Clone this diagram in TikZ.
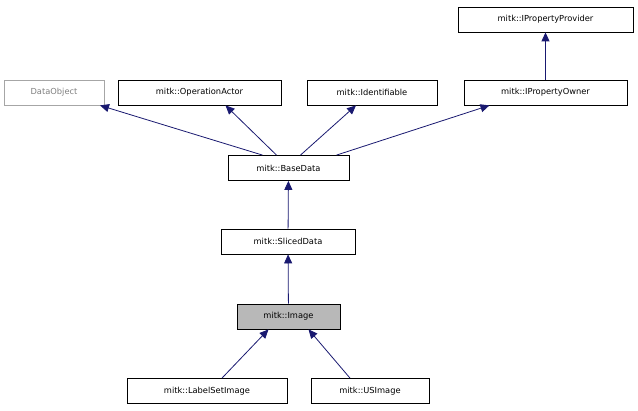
\documentclass[tikz,border=0pt]{standalone}
\usepackage{fontspec}
\setmainfont{DejaVu Sans}
\usetikzlibrary{arrows.meta,calc}
\definecolor{navy}{HTML}{191970}
\begin{document}
\begin{tikzpicture}[x=1pt,y=-1pt,
  box/.style={draw=black,line width=0.8pt,fill=white,minimum height=25pt,inner sep=0pt,font=\fontsize{8.3}{10}\selectfont},
  arr/.style={draw=navy,line width=0.8pt,-{Triangle[length=9pt,width=8pt]}}]
\useasboundingbox (0,0) rectangle (638,411);
\node[box,minimum width=175pt] (ipp) at (545.5,19.5) {mitk::IPropertyProvider};
\node[box,draw=gray!70,text=gray,minimum width=100pt] (do) at (54,92.5) {DataObject};
\node[box,minimum width=163pt] (oa) at (199.5,92.5) {mitk::OperationActor};
\node[box,minimum width=130pt] (id) at (372,92.5) {mitk::Identifiable};
\node[box,minimum width=163pt] (ipo) at (545.5,92.5) {mitk::IPropertyOwner};
\node[box,minimum width=121pt] (bd) at (288.5,168) {mitk::BaseData};
\node[box,minimum width=134pt] (sd) at (288,241.5) {mitk::SlicedData};
\node[box,fill=black!28,minimum width=103pt] (im) at (288.5,316.5) {mitk::Image};
\node[box,minimum width=160pt] (lsi) at (207,391) {mitk::LabelSetImage};
\node[box,minimum width=118pt] (us) at (370,391) {mitk::USImage};
\draw[arr] (ipo) -- (ipp);
\draw[arr] ($(bd.north)+(-26,0)$) -- ($(do.south)+(46,0)$);
\draw[arr] ($(bd.north)+(-12,0)$) -- ($(oa.south)+(26,0)$);
\draw[arr] ($(bd.north)+(12,0)$) -- ($(id.south)+(-16,0)$);
\draw[arr] ($(bd.north)+(48,0)$) -- ($(ipo.south)+(-56,0)$);
\draw[arr] (sd) -- (bd);
\draw[arr] (im) -- (sd);
\draw[arr] ($(lsi.north)+(15,0)$) -- ($(im.south)+(-20,0)$);
\draw[arr] ($(us.north)+(-20,0)$) -- ($(im.south)+(20,0)$);
\end{tikzpicture}
\end{document}
